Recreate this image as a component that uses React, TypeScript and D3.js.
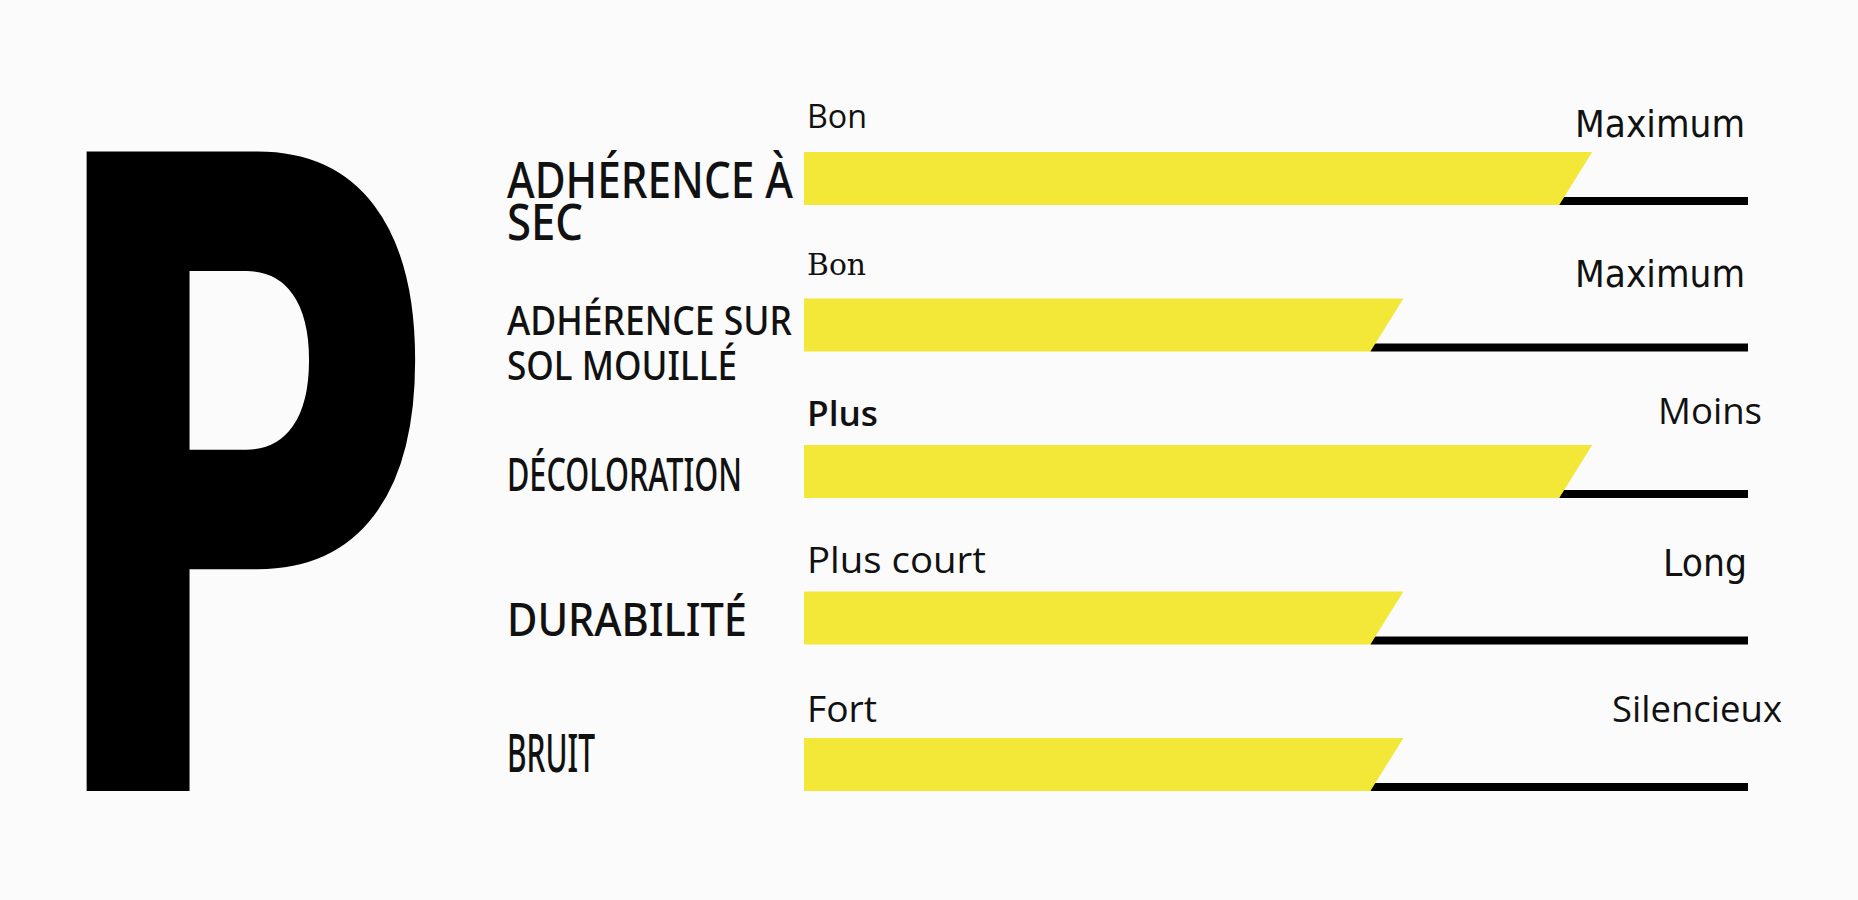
import React, { useMemo } from "react";
import * as d3 from "d3";

// ---- data ----
const categories = [
  "ADHÉRENCE À SEC",
  "ADHÉRENCE SUR SOL MOUILLÉ",
  "DÉCOLORATION",
  "DURABILITÉ",
  "BRUIT",
];
const labelLines = [
  ["ADHÉRENCE À", "SEC"],
  ["ADHÉRENCE SUR", "SOL MOUILLÉ"],
  ["DÉCOLORATION"],
  ["DURABILITÉ"],
  ["BRUIT"],
];
const scores = [4, 3, 4, 3, 3];
const scoreMax = 5;
const lowLabels = ["Bon", "Bon", "Plus", "Plus court", "Fort"];
const highLabels = ["Maximum", "Maximum", "Moins", "Long", "Silencieux"];
const gradeLetter = "P";

// ---- layout / style ----
const W = 1858;
const H = 900;
const BG = "#FBFBFB";
const YELLOW = "#F3E837";
const INK = "#111111";
const trackLeft = 804;
const trackRight = 1748;
const firstTop = 152;
const lastTop = 738;
const barH = 53;
const lineH = 8;
const slant = 33;

const catStyle = [
  { size: 51, lines: [{ dy: 46, w: 286 }, { dy: 88, w: 76 }] },
  { size: 39, lines: [{ dy: 36, w: 285 }, { dy: 81, w: 230 }] },
  { size: 46, lines: [{ dy: 46, w: 235 }] },
  { size: 46, lines: [{ dy: 44, w: 240 }] },
  { size: 52, lines: [{ dy: 34, w: 88 }] },
];
const lowStyle = [
  { family: "'Open Sans'", weight: 500, size: 32, dy: -24, w: 60 },
  { family: "'DejaVu Serif'", weight: 400, size: 29, dy: -24, w: 59 },
  { family: "'Open Sans'", weight: 600, size: 34, dy: -19, w: 71 },
  { family: "'Open Sans'", weight: 400, size: 37, dy: -19, w: 179 },
  { family: "'Open Sans'", weight: 400, size: 37, dy: -16, w: 70 },
];
const highStyle = [
  { family: "'DejaVu Sans'", weight: 400, size: 38, dy: -15, w: 170, right: 1745 },
  { family: "'DejaVu Sans'", weight: 400, size: 38, dy: -12, w: 170, right: 1745 },
  { family: "'Open Sans'", weight: 500, size: 36, dy: -21, w: 104, right: 1762 },
  { family: "'DejaVu Sans'", weight: 400, size: 38, dy: -16, w: 84, right: 1747 },
  { family: "'Open Sans'", weight: 400, size: 36, dy: -16, w: 170, right: 1782 },
];
const letterBox = { left: 85, right: 412, top: 152, bottom: 791 };
const letterFont = "'DejaVu Sans'";
// empirical corrections between canvas metrics and svg rendering
const letterFix = { size: 1.008, sx: 1.038, dx: -6.2 };

function fitLetter() {
  let k = 0.877, L = 0.05, desc = 0, sx = 0.62, fontSize = 877;
  try {
    const c = document.createElement("canvas");
    const ctx = c.getContext("2d");
    if (ctx) {
      ctx.font = `bold 1000px ${letterFont}`;
      const m = ctx.measureText(gradeLetter);
      const asc = m.actualBoundingBoxAscent;
      desc = m.actualBoundingBoxDescent;
      L = m.actualBoundingBoxLeft;
      const R = m.actualBoundingBoxRight;
      const inkH = asc + desc;
      fontSize = (1000 * (letterBox.bottom - letterBox.top)) / inkH;
      k = fontSize / 1000;
      const inkW = (L + R) * k;
      sx = (letterBox.right - letterBox.left) / inkW;
    }
  } catch (e) {}
  return {
    fontSize: fontSize * letterFix.size,
    x: L * k,
    baseline: letterBox.bottom - desc * k,
    sx: sx * letterFix.sx,
    tx: letterBox.left + letterFix.dx,
  };
}

export default function App() {
  const x = d3.scaleLinear().domain([0, scoreMax]).range([trackLeft, trackRight]);
  const y = d3.scalePoint<string>().domain(categories).range([firstTop, lastTop]);
  const letter = useMemo(fitLetter, []);

  return (
    <svg
      width={W}
      height={H}
      style={{ position: "absolute", left: 0, top: 0, display: "block" }}
    >
      <rect x={0} y={0} width={W} height={H} fill={BG} />
      <g transform={`translate(${letter.tx},0) scale(${letter.sx},1)`}>
        <text
          x={letter.x}
          y={letter.baseline}
          fontFamily={letterFont}
          fontWeight="bold"
          fontSize={letter.fontSize}
          fill="#000"
        >
          {gradeLetter}
        </text>
      </g>
      {categories.map((cat, i) => {
        const top = y(cat) as number;
        const bottom = top + barH;
        const xv = x(scores[i]);
        const bar = d3.path();
        bar.moveTo(x(0), top);
        bar.lineTo(xv + slant, top);
        bar.lineTo(xv, bottom);
        bar.lineTo(x(0), bottom);
        bar.closePath();
        const cs = catStyle[i];
        const lo = lowStyle[i];
        const hi = highStyle[i];
        return (
          <g key={cat}>
            <rect x={xv} y={bottom - lineH} width={x(scoreMax) - xv} height={lineH} fill="#000" />
            <path d={bar.toString()} fill={YELLOW} />
            {labelLines[i].map((ln, j) => (
              <text
                key={j}
                x={507}
                y={top + cs.lines[j].dy}
                fontFamily="'Noto Sans'"
                fontWeight={500}
                fontSize={cs.size}
                fill={INK}
                textLength={cs.lines[j].w}
                lengthAdjust="spacingAndGlyphs"
              >
                {ln}
              </text>
            ))}
            <text
              x={807}
              y={top + lo.dy}
              fontFamily={lo.family}
              fontWeight={lo.weight}
              fontSize={lo.size}
              fill={INK}
              textLength={lo.w}
              lengthAdjust="spacingAndGlyphs"
            >
              {lowLabels[i]}
            </text>
            <text
              x={hi.right - hi.w}
              y={top + hi.dy}
              fontFamily={hi.family}
              fontWeight={hi.weight}
              fontSize={hi.size}
              fill={INK}
              textLength={hi.w}
              lengthAdjust="spacingAndGlyphs"
            >
              {highLabels[i]}
            </text>
          </g>
        );
      })}
    </svg>
  );
}
